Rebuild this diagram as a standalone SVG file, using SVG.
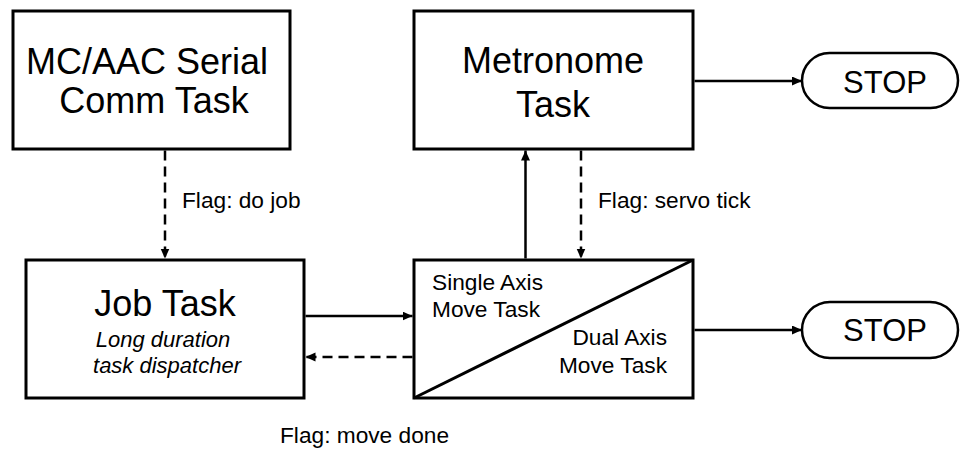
<svg xmlns="http://www.w3.org/2000/svg" width="961" height="449" viewBox="0 0 961 449">
<style>
.box{fill:#fff;stroke:#000;stroke-width:3}
.pill{fill:#fff;stroke:#000;stroke-width:2.5}
.ln{fill:none;stroke:#000;stroke-width:2.5}
.dash{stroke-dasharray:10 6}
.big{font-family:"Liberation Sans",Arial,sans-serif;font-size:36px;fill:#000}
.stop{font-family:"Liberation Sans",Arial,sans-serif;font-size:31px;fill:#000}
.lbl{font-family:"Liberation Sans",Arial,sans-serif;font-size:22.7px;fill:#000}
.it{font-family:"Liberation Sans",Arial,sans-serif;font-size:22px;font-style:italic;fill:#000}
</style>
<defs>
<marker id="ah" markerUnits="userSpaceOnUse" markerWidth="11" markerHeight="10" refX="10" refY="4.5" orient="auto">
<path d="M0,0 L10,4.5 L0,9 z" fill="#000"/>
</marker>
</defs>
<g id="connectors">
<line class="ln dash" x1="165" y1="150.5" x2="165" y2="258.5" marker-end="url(#ah)"/>
<line class="ln" x1="525.5" y1="258.5" x2="525.5" y2="150.5" marker-end="url(#ah)"/>
<line class="ln dash" x1="581" y1="150.5" x2="581" y2="258.5" marker-end="url(#ah)"/>
<line class="ln" x1="305.5" y1="316" x2="412.5" y2="316" marker-end="url(#ah)"/>
<line class="ln dash" x1="412.5" y1="357" x2="305.5" y2="357" marker-end="url(#ah)"/>
<line class="ln" x1="694.5" y1="81" x2="802" y2="81" marker-end="url(#ah)"/>
<line class="ln" x1="694.5" y1="330" x2="802" y2="330" marker-end="url(#ah)"/>
<text class="lbl" x="182" y="208">Flag: do job</text>
<text class="lbl" x="598" y="208">Flag: servo tick</text>
<text class="lbl" x="280" y="443">Flag: move done</text>
</g>
<g id="serial">
<rect class="box" x="13" y="11" width="277" height="138"/>
<text class="big" x="147" y="74" text-anchor="middle">MC/AAC Serial</text>
<text class="big" x="154" y="113" text-anchor="middle">Comm Task</text>
</g>
<g id="metronome">
<rect class="box" x="414" y="11" width="279" height="138"/>
<text class="big" x="553" y="73" text-anchor="middle">Metronome</text>
<text class="big" x="553" y="117" text-anchor="middle">Task</text>
</g>
<g id="stop1">
<rect class="pill" x="802" y="53" width="156" height="55" rx="27.5"/>
<text class="stop" x="885" y="93" text-anchor="middle">STOP</text>
</g>
<g id="job">
<rect class="box" x="26" y="260" width="278" height="138"/>
<text class="big" x="165" y="316" text-anchor="middle">Job Task</text>
<text class="it" x="163" y="347" text-anchor="middle">Long duration</text>
<text class="it" x="167" y="373" text-anchor="middle">task dispatcher</text>
</g>
<g id="move">
<rect class="box" x="414" y="260" width="279" height="138"/>
<line class="ln" x1="414" y1="398" x2="693" y2="260" style="stroke-width:3"/>
<text class="lbl" x="432" y="290">Single Axis</text>
<text class="lbl" x="432" y="317">Move Task</text>
<text class="lbl" x="667" y="345" text-anchor="end">Dual Axis</text>
<text class="lbl" x="667" y="373" text-anchor="end">Move Task</text>
</g>
<g id="stop2">
<rect class="pill" x="802" y="302" width="156" height="56" rx="28"/>
<text class="stop" x="885" y="341" text-anchor="middle">STOP</text>
</g>
</svg>
